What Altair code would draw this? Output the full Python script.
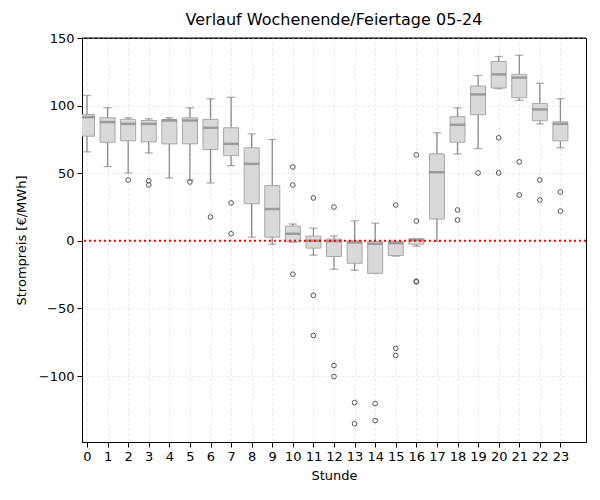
import altair as alt
import pandas as pd

# Hourly price distribution (weekends / holidays), one box per hour
hours = list(range(24))
whisker_low = [65.8, 54.9, 50.2, 65.0, 46.5, 45.0, 42.8, 55.6, 2.7, -2.5, -1.0, -10.6,
               -21.0, -21.8, -24.0, -11.3, -4.0, -0.5, 64.3, 68.2, 112.5, 103.9, 86.5, 68.8]
q1 = [77.4, 72.9, 73.9, 73.2, 71.7, 71.7, 67.5, 63.0, 27.4, 2.7, -0.7, -5.4,
      -11.6, -16.6, -24.0, -10.9, -2.5, 16.1, 72.9, 93.2, 113.0, 105.8, 88.8, 73.9]
median = [91.5, 87.8, 86.5, 86.5, 89.0, 89.0, 83.6, 71.7, 56.9, 23.5, 5.2, 0.0,
          -0.3, -1.2, -2.2, -1.7, 0.5, 50.7, 85.8, 108.3, 123.1, 120.7, 97.2, 86.5]
q3 = [93.5, 91.0, 89.8, 89.0, 89.8, 91.0, 89.8, 83.6, 68.8, 40.8, 10.9, 3.5,
      1.3, 0.0, -0.5, -0.5, 1.5, 64.3, 91.8, 114.5, 132.6, 123.1, 101.6, 88.0]
whisker_high = [107.5, 98.4, 91.0, 90.2, 91.0, 98.4, 105.1, 106.1, 79.1, 74.9, 12.4, 9.4,
                3.5, 14.8, 13.1, -0.5, 1.5, 79.9, 98.4, 122.2, 136.3, 137.2, 116.5, 105.1]

outlier_hours = [2, 3, 3, 5, 6, 7, 7, 10, 10, 10, 11, 11, 11, 12, 12, 12, 13, 13, 14, 14,
                 15, 15, 15, 16, 16, 16, 16, 18, 18, 19, 20, 20, 21, 21, 22, 22, 23, 23]
outlier_values = [45.0, 44.5, 41.3, 43.5, 17.6, 28.0, 5.2, 54.6, 41.3, -24.7, 31.7, -40.3,
                  -70.0, 25.0, -92.2, -100.4, -119.7, -135.3, -120.4, -133.0, 26.5, -79.6,
                  -84.8, 63.6, 14.6, -29.9, -30.3, 22.8, 15.4, 50.2, 76.2, 50.2, 58.4, 33.9,
                  45.0, 30.2, 36.1, 22.0]

tick_hours = list(range(24))
y_ticks = [-100, -50, 0, 50, 100, 150]

stats = pd.DataFrame({
    "Stunde": hours, "lo": whisker_low, "q1": q1, "med": median, "q3": q3, "hi": whisker_high,
})
outliers = pd.DataFrame({"Stunde": outlier_hours, "Wert": outlier_values})
zero = pd.DataFrame({"y": [0]})

x_scale = alt.Scale(domain=[0, 24], nice=False, zero=False)
y_scale = alt.Scale(domain=[-148.8, 150], nice=False, zero=False)
x_axis = alt.Axis(values=tick_hours, format="d", labelFlush=False, labelOverlap=False,
                  tickCount=24)
y_axis = alt.Axis(values=y_ticks, title="Strompreis [€/MWh]")


def xq(field="Stunde"):
    return alt.X(f"{field}:Q", scale=x_scale, axis=x_axis, title="Stunde")


def yq(field):
    return alt.Y(f"{field}:Q", scale=y_scale, axis=y_axis, title="Strompreis [€/MWh]")


base = alt.Chart(stats)

whisker_color = "#8a8a8a"

whiskers = base.mark_rule(color=whisker_color, strokeWidth=1.3, clip=True).encode(
    x=xq(), y=yq("lo"), y2="hi:Q")

caps_low = base.mark_tick(color=whisker_color, thickness=1.3, size=8,
                          orient="horizontal", clip=True).encode(
    x=xq(), y=yq("lo"))
caps_high = base.mark_tick(color=whisker_color, thickness=1.3, size=8,
                           orient="horizontal", clip=True).encode(
    x=xq(), y=yq("hi"))

boxes = base.mark_bar(size=15, color="#d9d9d9", stroke="#a8a8a8", strokeWidth=1,
                      clip=True).encode(
    x=xq(), y=yq("q1"), y2="q3:Q")

medians = base.mark_tick(color="#808080", thickness=2.5, size=15,
                         orient="horizontal", clip=True).encode(
    x=xq(), y=yq("med"))

fliers = alt.Chart(outliers).mark_point(
    shape="circle", filled=False, color="#555555", size=22, strokeWidth=1, opacity=1,
    clip=True
).encode(x=xq(), y=yq("Wert"))

zero_line = alt.Chart(zero).mark_rule(
    color="red", strokeWidth=2, strokeDash=[2, 3]
).encode(y=yq("y"))

# solid top edge of the frame, drawn above the dotted grid line
top_edge = alt.Chart(zero).mark_rule(color="black", strokeWidth=1).encode(
    x=alt.value(0), x2=alt.value(504), y=alt.value(0))

chart = alt.layer(
    whiskers, caps_low, caps_high, boxes, medians, fliers, zero_line, top_edge
).properties(
    width=504,
    height=404,
    autosize="none",
    padding={"left": 82, "top": 38, "right": 14, "bottom": 58},
    title=alt.TitleParams(
        "Verlauf Wochenende/Feiertage 05-24",
        font="DejaVu Sans", fontSize=16, fontWeight="normal", color="black",
        anchor="middle", offset=4,
    ),
).configure_view(
    stroke="black", strokeWidth=1
).configure_axis(
    labelFont="DejaVu Sans", titleFont="DejaVu Sans",
    labelFontSize=13, titleFontSize=13, titleFontWeight="normal",
    labelColor="black", titleColor="black",
    domainColor="black", tickColor="black", tickSize=5,
    grid=True, gridColor="#dcdcdc", gridDash=[2, 3], gridWidth=0.8,
).configure_axisX(
    titlePadding=6, labelPadding=3,
).configure_axisY(
    titlePadding=10, labelPadding=3,
)

chart.save("out.html", embed_options={"renderer": "svg", "actions": False})
